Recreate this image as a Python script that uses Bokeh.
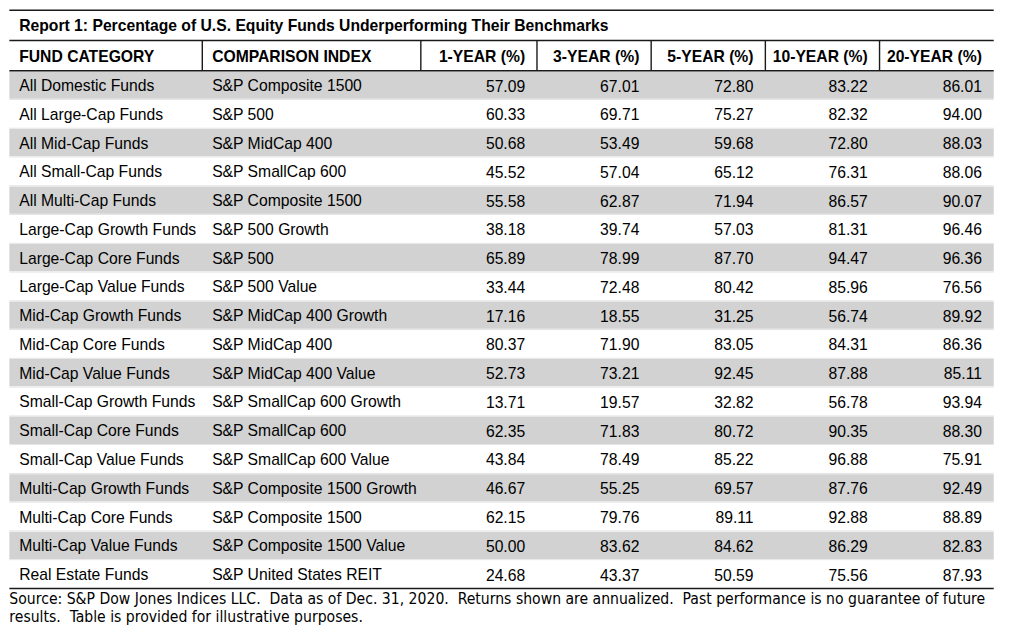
from bokeh.plotting import figure
from bokeh.models import Range1d, ColumnDataSource
from bokeh.core.properties import value
from bokeh.embed import file_html
from bokeh.resources import INLINE

title = "Report 1: Percentage of U.S. Equity Funds Underperforming Their Benchmarks"
headers = ["FUND CATEGORY", "COMPARISON INDEX", "1-YEAR (%)", "3-YEAR (%)",
           "5-YEAR (%)", "10-YEAR (%)", "20-YEAR (%)"]
categories = ["All Domestic Funds", "All Large-Cap Funds", "All Mid-Cap Funds",
              "All Small-Cap Funds", "All Multi-Cap Funds", "Large-Cap Growth Funds",
              "Large-Cap Core Funds", "Large-Cap Value Funds", "Mid-Cap Growth Funds",
              "Mid-Cap Core Funds", "Mid-Cap Value Funds", "Small-Cap Growth Funds",
              "Small-Cap Core Funds", "Small-Cap Value Funds", "Multi-Cap Growth Funds",
              "Multi-Cap Core Funds", "Multi-Cap Value Funds", "Real Estate Funds"]
indices = ["S&P Composite 1500", "S&P 500", "S&P MidCap 400", "S&P SmallCap 600",
           "S&P Composite 1500", "S&P 500 Growth", "S&P 500", "S&P 500 Value",
           "S&P MidCap 400 Growth", "S&P MidCap 400", "S&P MidCap 400 Value",
           "S&P SmallCap 600 Growth", "S&P SmallCap 600", "S&P SmallCap 600 Value",
           "S&P Composite 1500 Growth", "S&P Composite 1500", "S&P Composite 1500 Value",
           "S&P United States REIT"]
y1 = [57.09, 60.33, 50.68, 45.52, 55.58, 38.18, 65.89, 33.44, 17.16, 80.37, 52.73,
      13.71, 62.35, 43.84, 46.67, 62.15, 50.00, 24.68]
y3 = [67.01, 69.71, 53.49, 57.04, 62.87, 39.74, 78.99, 72.48, 18.55, 71.90, 73.21,
      19.57, 71.83, 78.49, 55.25, 79.76, 83.62, 43.37]
y5 = [72.80, 75.27, 59.68, 65.12, 71.94, 57.03, 87.70, 80.42, 31.25, 83.05, 92.45,
      32.82, 80.72, 85.22, 69.57, 89.11, 84.62, 50.59]
y10 = [83.22, 82.32, 72.80, 76.31, 86.57, 81.31, 94.47, 85.96, 56.74, 84.31, 87.88,
       56.78, 90.35, 96.88, 87.76, 92.88, 86.29, 75.56]
y20 = [86.01, 94.00, 88.03, 88.06, 90.07, 96.46, 96.36, 76.56, 89.92, 86.36, 85.11,
       93.94, 88.30, 75.91, 92.49, 88.89, 82.83, 87.93]
NB = "\u00a0"
footer = ["Source: S&P Dow Jones Indices LLC. " + NB + "Data as of Dec. 31, 2020. " + NB
          + "Returns shown are annualized. " + NB + "Past performance is no guarantee of future",
          "results. " + NB + "Table is provided for illustrative purposes."]

# layout (reference picture coordinates, 1024 x 641)
LEFT, RIGHT = 9, 1009
TOP, TITLE_BOT, HEAD_BOT = 10, 41, 72
ROW_H = 29.5
col_edges = [LEFT, 205, 427, 545, 661, 777, 893, RIGHT]
PAD = 10
FONT = "Liberation Sans"
FS = "15.7px"
n = len(categories)
BOTTOM = HEAD_BOT + n * ROW_H

p = figure(width=1008, height=625, output_backend="svg", toolbar_location=None,
           x_range=Range1d(0, 1024), y_range=Range1d(641, 0),
           min_border=0, outline_line_color=None)
p.axis.visible = False
p.grid.visible = False
p.background_fill_color = "white"
p.border_fill_color = "white"

# shaded rows
g_idx = [i for i in range(n) if i % 2 == 0]
p.rect(x=[(LEFT + RIGHT) / 2] * len(g_idx),
       y=[HEAD_BOT + (i + 0.5) * ROW_H for i in g_idx],
       width=RIGHT - LEFT, height=ROW_H - 1.5,
       fill_color="#d2d2d2", line_color=None)
# light row separators
p.segment(x0=[LEFT] * (n - 1), x1=[RIGHT] * (n - 1),
          y0=[HEAD_BOT + i * ROW_H for i in range(1, n)],
          y1=[HEAD_BOT + i * ROW_H for i in range(1, n)],
          line_color="#e4e4e4", line_width=1)

# horizontal rules
hy = [TOP, TITLE_BOT, HEAD_BOT, BOTTOM]
p.segment(x0=[LEFT] * 4, x1=[RIGHT] * 4, y0=hy, y1=hy, line_color="#1a1a1a", line_width=1.6)
# header dividers
vx = col_edges[1:-1]
p.segment(x0=vx, x1=vx, y0=[TITLE_BOT] * len(vx), y1=[HEAD_BOT] * len(vx),
          line_color="#1a1a1a", line_width=1.4)

# title
p.text(x=[LEFT + 10], y=[(TOP + TITLE_BOT) / 2 + 0.5], text=[title],
       text_font=value(FONT), text_font_style="bold", text_font_size=FS,
       text_baseline="middle", text_align="left", text_color="black")

# headers
hx, ha = [], []
for j, h in enumerate(headers):
    if j < 2:
        hx.append(col_edges[j] + PAD); ha.append("left")
    else:
        hx.append(col_edges[j + 1] - 12); ha.append("right")
src_h = ColumnDataSource(dict(x=hx, y=[(TITLE_BOT + HEAD_BOT) / 2 + 0.5] * len(headers),
                              t=headers, a=ha))
p.text(x="x", y="y", text="t", text_align="a", source=src_h,
       text_font=value(FONT), text_font_style="bold", text_font_size=FS,
       text_baseline="middle", text_color="black")

# body
ys = [HEAD_BOT + (i + 0.5) * ROW_H + 0.5 for i in range(n)]
p.text(x=[col_edges[0] + PAD] * n, y=ys, text=categories,
       text_font=value(FONT), text_font_size=FS, text_baseline="middle",
       text_align="left", text_color="black")
p.text(x=[col_edges[1] + PAD] * n, y=ys, text=indices,
       text_font=value(FONT), text_font_size=FS, text_baseline="middle",
       text_align="left", text_color="black")
for j, col in enumerate([y1, y3, y5, y10, y20]):
    p.text(x=[col_edges[j + 3] - 12] * n, y=ys, text=[f"{v:.2f}" for v in col],
           text_font=value(FONT), text_font_size=FS, text_baseline="middle",
           text_align="right", text_color="black")

# footer
p.text(x=[LEFT, LEFT], y=[BOTTOM + 11, BOTTOM + 29], text=footer,
       text_font=value("DejaVu Sans Condensed"), text_font_size="15.6px",
       text_baseline="middle", text_align="left", text_color="black")

open("out.html", "w").write(file_html(p, INLINE))
